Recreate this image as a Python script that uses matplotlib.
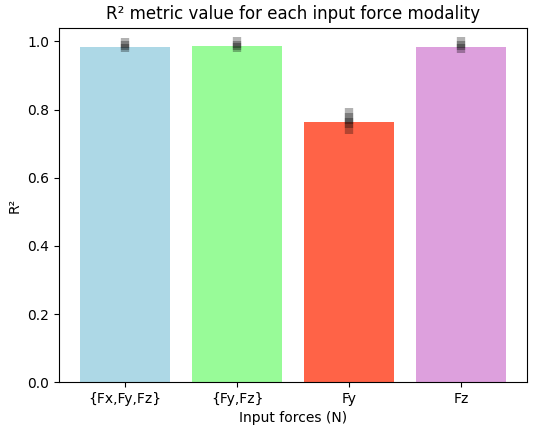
import numpy as np
import matplotlib
matplotlib.use("Agg")
import matplotlib.pyplot as plt

# R2 per input force modality
modalities = ["{Fx,Fy,Fz}", "{Fy,Fz}", "Fy", "Fz"]
r2_mean = [0.985, 0.988, 0.765, 0.985]
bar_colors = ["lightblue", "palegreen", "tomato", "plum"]

# spread of each run (low, high), drawn as translucent stacked bars
err_low = [[0.968, 0.975, 0.980], [0.968, 0.976, 0.982], [0.729, 0.745, 0.758], [0.966, 0.974, 0.980]]
err_high = [[1.010, 1.000, 0.992], [1.014, 1.002, 0.994], [0.806, 0.790, 0.775], [1.012, 1.000, 0.992]]

fig, ax = plt.subplots(figsize=(5.33, 4.28), dpi=100)
fig.subplots_adjust(left=0.111, right=0.989, top=0.935, bottom=0.107)

x = np.arange(len(modalities))
ax.bar(x, r2_mean, color=bar_colors, width=0.8)
for i in range(len(modalities)):
    ax.vlines([x[i]] * len(err_low[i]), err_low[i], err_high[i],
              colors="black", linewidth=6, alpha=0.3)

ax.set_xticks(x)
ax.set_xticklabels(modalities)
ax.set_ylim(0, 1.04)
ax.set_xlabel("Input forces (N)")
ax.set_ylabel("R²")
ax.set_title("R² metric value for each input force modality")

fig.savefig("out.png")
